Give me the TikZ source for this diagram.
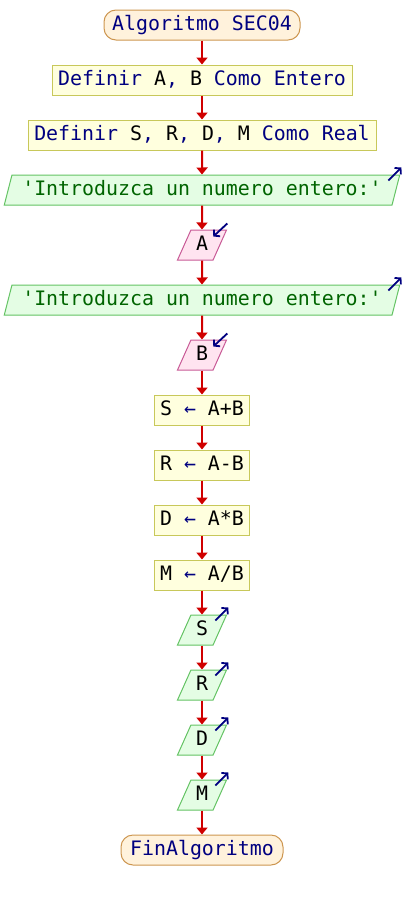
\documentclass[tikz,border=0pt]{standalone}
\usepackage{fontspec}
\setmonofont{DejaVu Sans Mono}
\usetikzlibrary{shapes.geometric,arrows.meta}
\definecolor{kw}{RGB}{0,0,128}
\definecolor{strc}{RGB}{0,100,0}
\definecolor{flowred}{RGB}{208,0,0}
\definecolor{termfill}{RGB}{255,242,220}
\definecolor{termdraw}{RGB}{205,150,80}
\definecolor{procfill}{RGB}{255,255,222}
\definecolor{procdraw}{RGB}{200,200,90}
\definecolor{outfill}{RGB}{228,253,228}
\definecolor{outdraw}{RGB}{100,195,100}
\definecolor{infill}{RGB}{255,228,240}
\definecolor{indraw}{RGB}{200,90,150}
\newcommand{\idf}[1]{\textcolor{black}{#1}}
\begin{document}
\begin{tikzpicture}[x=1pt,y=-1pt,
  every node/.style={font=\ttfamily\fontsize{19.9}{24}\selectfont, text=kw, inner sep=0pt,
    text height=14.5pt, text depth=3.5pt, line width=1pt},
  term/.style={draw=termdraw, fill=termfill, rounded corners=12pt, minimum height=30pt},
  proc/.style={draw=procdraw, fill=procfill, minimum height=30pt},
  iobox/.style={trapezium, trapezium left angle=68, trapezium right angle=112,
    trapezium stretches=true, minimum height=30pt},
  outp/.style={iobox, draw=outdraw, fill=outfill},
  inp/.style={iobox, draw=indraw, fill=infill},
  flow/.style={draw=flowred, line width=2pt, -{Triangle[width=11pt,length=7pt]}},
  io arrow/.style={draw=kw, line width=1.8pt, -{Straight Barb[length=4pt,width=9pt]}}
]
\useasboundingbox (0,0) rectangle (404,900);

\node[term, minimum width=196pt] (start) at (202,25) {Algoritmo SEC04};
\node[proc, minimum width=300pt] (def1) at (202,80) {Definir \idf{A}, \idf{B} Como Entero};
\node[proc, minimum width=348pt] (def2) at (202,135) {Definir \idf{S}, \idf{R}, \idf{D}, \idf{M} Como Real};
\node[outp, minimum width=396pt, text=strc] (out1) at (202,190) {'Introduzca un numero entero:'};
\node[inp, minimum width=49pt] (inA) at (202,245) {\idf{A}};
\node[outp, minimum width=396pt, text=strc] (out2) at (202,300) {'Introduzca un numero entero:'};
\node[inp, minimum width=49pt] (inB) at (202,355) {\idf{B}};
\node[proc, minimum width=95pt] (asS) at (202,410) {\idf{S} ← \idf{A+B}};
\node[proc, minimum width=95pt] (asR) at (202,465) {\idf{R} ← \idf{A-B}};
\node[proc, minimum width=95pt] (asD) at (202,520) {\idf{D} ← \idf{A*B}};
\node[proc, minimum width=95pt] (asM) at (202,575) {\idf{M} ← \idf{A/B}};
\node[outp, minimum width=49pt] (outS) at (202,630) {\idf{S}};
\node[outp, minimum width=49pt] (outR) at (202,685) {\idf{R}};
\node[outp, minimum width=49pt] (outD) at (202,740) {\idf{D}};
\node[outp, minimum width=49pt] (outM) at (202,795) {\idf{M}};
\node[term, minimum width=162pt] (fin) at (202,850) {FinAlgoritmo};

\foreach \a/\b in {start/def1, def1/def2, def2/out1, out1/inA, inA/out2, out2/inB,
  inB/asS, asS/asR, asR/asD, asD/asM, asM/outS, outS/outR, outR/outD, outD/outM, outM/fin}
  \draw[flow] (\a.south) -- (\b.north);

\foreach \n in {out1, out2, outS, outR, outD, outM}
  \draw[io arrow] ([shift={(-12,6)}]\n.top right corner) -- ([shift={(1,-7)}]\n.top right corner);
\foreach \n in {inA, inB}
  \draw[io arrow] ([shift={(0,-6)}]\n.top right corner) -- ([shift={(-14,7)}]\n.top right corner);
\end{tikzpicture}
\end{document}
